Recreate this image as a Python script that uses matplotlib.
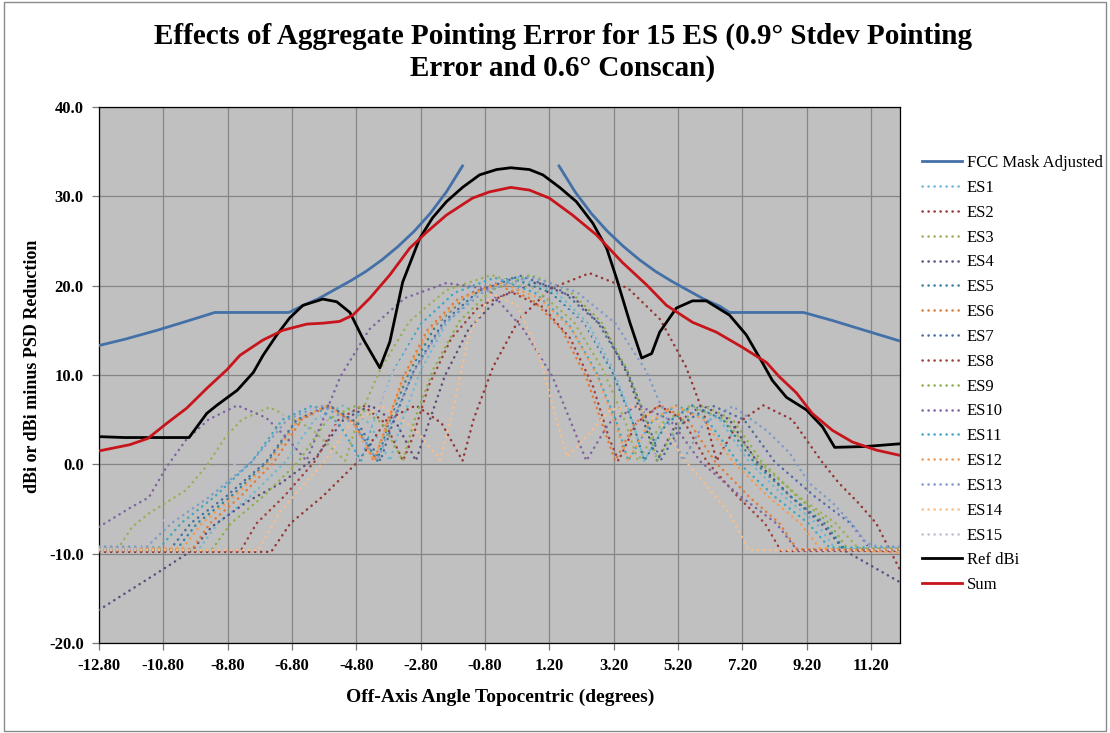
import numpy as np
import matplotlib
matplotlib.use('Agg')
import matplotlib.pyplot as plt
from matplotlib.patches import Rectangle

plt.rcParams['font.family'] = ['Liberation Serif', 'DejaVu Serif']

# FCC mask (gap around the main lobe)
fcc_x = [-12.8, -12.0, -11.0, -10.0, -9.2, -6.9, -6.5, -6.0, -5.5, -5.0, -4.5, -4.0, -3.5, -3.0, -2.5, -2.0, -1.5,
         np.nan,
         1.5, 2.0, 2.5, 3.0, 3.5, 4.0, 4.5, 5.0, 5.5, 6.0, 6.5, 6.8, 9.1, 10.0, 11.0, 12.1]
fcc_y = [13.3, 14.0, 15.0, 16.1, 17.0, 17.0, 17.7, 18.5, 19.5, 20.5, 21.6, 22.9, 24.4, 26.1, 28.1, 30.5, 33.4,
         np.nan,
         33.4, 30.5, 28.1, 26.1, 24.4, 22.9, 21.6, 20.5, 19.5, 18.5, 17.7, 17.0, 17.0, 16.1, 15.0, 13.8]

ref_x = [-12.8, -12.0, -11.0, -10.0, -9.45, -9.14, -8.5, -8.0, -7.7, -7.27, -6.87, -6.46, -5.84, -5.41, -5.0,
         -4.6, -4.07, -3.76, -3.36, -2.83, -2.43, -2.0, -1.5, -0.97, -0.44, 0.0, 0.58, 1.0, 1.52, 2.04,
         2.55, 2.98, 3.29, 3.7, 4.07, 4.38, 4.63, 5.15, 5.65, 6.08, 6.8, 7.32, 7.82, 8.13, 8.57,
         9.19, 9.69, 10.07, 11.05, 12.1]
ref_y = [3.1, 3.0, 3.0, 3.0, 5.7, 6.6, 8.3, 10.3, 12.2, 14.5, 16.4, 17.8, 18.5, 18.2, 17.0,
         14.1, 10.8, 13.7, 20.4, 25.3, 27.6, 29.4, 31.0, 32.4, 33.0, 33.2, 33.0, 32.4, 31.0, 29.4,
         27.0, 24.2, 20.8, 15.9, 11.9, 12.4, 14.8, 17.5, 18.3, 18.3, 16.7, 14.5, 11.4, 9.4, 7.5,
         6.1, 4.2, 1.9, 2.0, 2.3]

sum_x = [-12.8, -11.84, -11.28, -10.69, -10.07, -9.45, -8.82, -8.42, -7.71, -7.09, -6.34, -5.84, -5.32, -4.91,
         -4.38, -3.76, -3.14, -2.61, -2.0, -1.19, -0.66, 0.0, 0.58, 1.2, 1.92, 2.66, 3.47, 4.22, 4.84, 5.65,
         6.39, 7.2, 7.95, 8.35, 8.88, 9.37, 10.0, 10.62, 11.36, 12.1]
sum_y = [1.5, 2.2, 2.9, 4.6, 6.3, 8.5, 10.6, 12.2, 13.9, 15.0, 15.7, 15.8, 16.0, 16.7,
         18.6, 21.2, 24.2, 26.0, 27.9, 29.8, 30.5, 31.0, 30.7, 29.8, 27.9, 25.7, 22.6, 20.1, 17.8, 15.9,
         14.8, 13.1, 11.4, 9.8, 8.0, 5.7, 3.8, 2.5, 1.6, 1.0]

es1_x = [-12.8, -9.7, -9.1, -8.1, -7.0, -6.1, -5.2, -4.4, -3.75, -3.4, -2.8, -2.0, -1.0, 0.2,
         1.4, 2.4, 3.2, 3.8, 4.15, 4.8, 5.6, 6.5, 7.4, 8.5, 9.5, 10.1, 12.1]
es1_y = [-9.5, -9.5, -6.6, -3.6, 0.3, 5.0, 6.6, 4.6, 0.4, 4.7, 10.5, 15.8, 19.3, 21.0,
         19.3, 15.8, 10.5, 4.7, 0.4, 4.6, 6.6, 5.0, 0.3, -3.6, -6.6, -9.5, -9.5]

es2_x = [-12.8, -7.45, -6.85, -5.85, -4.75, -3.85, -2.95, -2.15, -1.5, -1.15, -0.55, 0.25, 1.25, 2.45,
         3.65, 4.65, 5.45, 6.05, 6.4, 7.05, 7.85, 8.75, 9.69, 10.2, 10.8, 11.36, 11.67, 12.1]
es2_y = [-9.8, -9.8, -6.6, -3.6, 0.3, 5.0, 6.6, 4.6, 0.4, 5.1, 10.9, 16.2, 19.7, 21.4,
         19.7, 16.2, 10.9, 5.1, 0.4, 4.6, 6.6, 5.0, 0.2, -2.1, -4.3, -6.6, -8.8, -11.8]

es3_x = [-12.8, -12.18, -11.77, -11.25, -10.72, -10.1, -9.48, -8.86, -8.36, -7.5, -6.2, -5.15, -4.75, -4.05,
         -3.15, -2.0, -0.6, 0.8, 1.95, 2.85, 3.55, 3.95, 4.7, 5.6, 6.65, 7.7, 8.95, 10.1, 10.8, 12.1]
es3_y = [-9.4, -9.3, -7.0, -5.5, -4.3, -2.9, -0.3, 3.1, 5.0, 6.4, 4.0, 0.4, 4.9, 10.7,
         16.0, 19.5, 21.2, 19.5, 16.0, 10.7, 4.9, 0.4, 4.6, 6.6, 5.0, 0.3, -3.6, -6.6, -9.4, -9.4]

es4_x = [-12.8, -10.7, -9.9, -9.3, -8.2, -7.1, -6.05, -5.2, -4.35, -3.55, -2.95, -2.6, -2.05, -1.3, -0.35, 0.8,
         1.95, 2.9, 3.65, 4.2, 4.55, 5.15, 5.95, 6.8, 7.65, 8.7, 9.65, 10.4, 12.1]
es4_y = [-16.3, -11.5, -9.6, -7.0, -4.2, -2.0, 0.8, 5.0, 6.6, 4.6, 0.4, 4.1, 9.9, 15.2, 18.7, 20.4,
         18.7, 15.2, 9.9, 4.1, 0.4, 4.6, 6.6, 5.0, 0.3, -3.6, -6.6, -9.7, -13.2]

es5_x = [-12.8, -10.4, -9.75, -8.7, -7.55, -6.6, -5.65, -4.85, -4.15, -3.8, -3.15, -2.3, -1.25, 0.0,
         1.25, 2.3, 3.15, 3.8, 4.15, 4.85, 5.65, 6.6, 7.55, 8.7, 9.75, 10.4, 12.1]
es5_y = [-9.6, -9.6, -6.6, -3.6, 0.3, 5.0, 6.6, 4.6, 0.4, 4.6, 10.4, 15.7, 19.2, 20.9,
         19.2, 15.7, 10.4, 4.6, 0.4, 4.6, 6.6, 5.0, 0.3, -3.6, -6.6, -9.6, -9.6]

es6_x = [-12.8, -9.9, -9.35, -8.4, -7.35, -6.5, -5.65, -4.85, -4.25, -3.9, -3.35, -2.6, -1.65, -0.5,
         0.65, 1.6, 2.35, 2.9, 3.25, 3.85, 4.65, 5.5, 6.35, 7.4, 8.35, 8.9, 12.1]
es6_y = [-9.5, -9.5, -6.6, -3.6, 0.3, 5.0, 6.6, 4.6, 0.4, 3.9, 9.7, 15.0, 18.5, 20.2,
         18.5, 15.0, 9.7, 3.9, 0.4, 4.6, 6.6, 5.0, 0.3, -3.6, -6.6, -9.5, -9.5]

es7_x = [-12.8, -10.6, -9.95, -8.85, -7.6, -6.65, -5.65, -4.75, -4.05, -3.65, -3.0, -2.1, -1.0, 0.3,
         1.6, 2.7, 3.6, 4.25, 4.65, 5.35, 6.25, 7.25, 8.2, 9.45, 10.55, 11.2, 12.1]
es7_y = [-9.6, -9.6, -6.6, -3.6, 0.3, 5.0, 6.6, 4.6, 0.4, 4.8, 10.6, 15.9, 19.4, 21.1,
         19.4, 15.9, 10.6, 4.8, 0.4, 4.6, 6.6, 5.0, 0.3, -3.6, -6.6, -9.6, -9.6]

es8_x = [-12.8, -8.4, -7.9, -7.05, -6.1, -5.35, -4.6, -3.9, -3.35, -3.05, -2.55, -1.85, -1.0, 0.0,
         1.0, 1.85, 2.55, 3.05, 3.35, 3.9, 4.6, 5.35, 6.1, 7.05, 7.9, 8.4, 12.1]
es8_y = [-9.7, -9.7, -6.6, -3.6, 0.3, 5.0, 6.6, 4.6, 0.4, 3.0, 8.8, 14.1, 17.6, 19.3,
         17.6, 14.1, 8.8, 3.0, 0.4, 4.6, 6.6, 5.0, 0.3, -3.6, -6.6, -9.7, -9.7]

es9_x = [-12.8, -9.3, -8.7, -7.7, -6.6, -5.7, -4.8, -4.0, -3.35, -3.0, -2.4, -1.6, -0.6, 0.6,
         1.8, 2.8, 3.6, 4.2, 4.55, 5.2, 6.0, 6.9, 7.8, 8.9, 9.9, 10.5, 12.1]
es9_y = [-9.6, -9.6, -6.6, -3.6, 0.3, 5.0, 6.6, 4.6, 0.4, 4.9, 10.7, 16.0, 19.5, 21.2,
         19.5, 16.0, 10.7, 4.9, 0.4, 4.6, 6.6, 5.0, 0.3, -3.6, -6.6, -9.6, -9.6]

es10_x = [-12.8, -11.8, -11.25, -10.7, -10.1, -9.4, -8.5, -7.6, -7.0, -6.35, -5.95, -5.3, -4.4, -3.3, -2.0,
          -0.7, 0.4, 1.3, 1.95, 2.35, 3.05, 3.95, 4.95, 5.9, 7.15, 8.25, 8.9, 12.1]
es10_y = [-7.0, -4.8, -3.7, -0.3, 2.7, 5.0, 6.6, 5.2, 3.1, 0.4, 4.0, 9.8, 15.1, 18.6, 20.3,
          19.6, 15.1, 9.8, 4.0, 0.4, 4.6, 6.6, 5.0, 0.3, -3.6, -6.6, -9.6, -9.6]

es11_x = [-12.8, -10.9, -10.25, -9.2, -8.05, -7.1, -6.15, -5.35, -4.65, -4.3, -3.65, -2.8, -1.75, -0.5,
          0.75, 1.8, 2.65, 3.3, 3.65, 4.35, 5.15, 6.1, 7.05, 8.2, 9.25, 9.9, 12.1]
es11_y = [-9.3, -9.3, -6.6, -3.6, 0.3, 5.0, 6.6, 4.6, 0.4, 4.6, 10.4, 15.7, 19.2, 20.9,
          19.2, 15.7, 10.4, 4.6, 0.4, 4.6, 6.6, 5.0, 0.3, -3.6, -6.6, -9.3, -9.3]

es12_x = [-12.8, -10.2, -9.6, -8.6, -7.5, -6.6, -5.7, -4.9, -4.25, -3.9, -3.3, -2.5, -1.5, -0.3,
          0.9, 1.9, 2.7, 3.3, 3.65, 4.3, 5.1, 6.0, 6.9, 8.0, 9.0, 9.6, 12.1]
es12_y = [-9.4, -9.4, -6.6, -3.6, 0.3, 5.0, 6.6, 4.6, 0.4, 4.0, 9.8, 15.1, 18.6, 20.3,
          18.6, 15.1, 9.8, 4.0, 0.4, 4.6, 6.6, 5.0, 0.3, -3.6, -6.6, -9.4, -9.9]

es13_x = [-12.8, -11.3, -10.55, -9.35, -8.05, -6.95, -5.9, -4.9, -4.15, -3.7, -3.0, -2.05, -0.85, 0.6,
          2.05, 3.25, 4.2, 4.9, 5.35, 6.0, 6.9, 7.95, 8.66, 9.28, 10.0, 10.6, 11.05, 11.4, 12.1]
es13_y = [-9.2, -9.2, -6.6, -3.6, 0.3, 5.0, 6.6, 4.6, 0.4, 4.7, 10.5, 15.8, 19.3, 21.0,
          19.3, 15.8, 10.5, 4.7, 0.4, 4.6, 6.5, 3.8, 1.3, -2.1, -4.3, -6.6, -8.8, -9.2, -9.2]

es14_x = [-12.8, -7.85, -7.2, -6.6, -5.75, -5.0, -4.0, -3.0, -2.2, -1.8, -1.3, -0.6,
          0.2, 0.87, 1.28, 1.75, 2.35, 3.1, 3.9, 4.7, 5.4, 6.2, 6.8, 7.4, 12.1]
es14_y = [-9.6, -9.6, -5.5, -2.9, 0.5, 4.5, 6.5, 4.0, 0.5, 6.0, 14.5, 19.1,
          17.8, 12.4, 6.9, 0.8, 3.1, 6.1, 6.5, 4.5, 0.5, -2.9, -5.5, -9.6, -9.6]

es15_x = [-12.8, -11.6, -10.9, -9.75, -8.5, -7.45, -6.4, -5.5, -4.75, -4.35, -3.65, -2.75, -1.6, -0.2,
          1.2, 2.35, 3.25, 3.95, 4.35, 5.1, 6.0, 7.05, 8.1, 9.35, 10.5, 11.2, 12.1]
es15_y = [-9.5, -9.5, -6.6, -3.6, 0.3, 5.0, 6.6, 4.6, 0.4, 4.4, 10.2, 15.5, 19.0, 20.7,
          19.0, 15.5, 10.2, 4.4, 0.4, 4.6, 6.6, 5.0, 0.3, -3.6, -6.6, -9.5, -9.5]

es_colors = ['#6FB9D3', '#953735', '#9BAF5A', '#5B4F80', '#31859C', '#E07B39', '#4A6E9E', '#A0403E',
             '#8DB04A', '#8064A2', '#3FA7C2', '#F59A4F', '#7E9BCB', '#F8BE8C', '#C5BBD8']

xticks = [-12.8, -10.8, -8.8, -6.8, -4.8, -2.8, -0.8, 1.2, 3.2, 5.2, 7.2, 9.2, 11.2]
yticks = [-20, -10, 0, 10, 20, 30, 40]

fig = plt.figure(figsize=(11.1, 7.33), dpi=100)
ax = fig.add_axes([99/1110, 1-643/733, 801/1110, 536/733])
ax.set_facecolor('#C0C0C0')

es_all = [(es1_x, es1_y), (es2_x, es2_y), (es3_x, es3_y), (es4_x, es4_y), (es5_x, es5_y),
          (es6_x, es6_y), (es7_x, es7_y), (es8_x, es8_y), (es9_x, es9_y), (es10_x, es10_y),
          (es11_x, es11_y), (es12_x, es12_y), (es13_x, es13_y), (es14_x, es14_y), (es15_x, es15_y)]

handles = []
h, = ax.plot(fcc_x, fcc_y, color='#4470A8', lw=2.0, zorder=3, label='FCC Mask Adjusted')
handles.append(h)
dots = (0, (0.1, 2.3))
for i, (xs, ys) in enumerate(es_all):
    h, = ax.plot(xs, ys, color=es_colors[i], lw=1.8, linestyle=dots, dash_capstyle='round',
                 zorder=3.1 + i*0.01, label='ES%d' % (i+1))
    handles.append(h)
h, = ax.plot(ref_x, ref_y, color='black', lw=2.0, zorder=4, label='Ref dBi')
handles.append(h)
h, = ax.plot(sum_x, sum_y, color='#C8141B', lw=2.0, zorder=4.1, label='Sum')
handles.append(h)

ax.set_xlim(-12.8, 12.1)
ax.set_ylim(-20, 40)
ax.set_xticks(xticks)
ax.set_xticklabels(['%.2f' % v for v in xticks])
ax.set_yticks(yticks)
ax.set_yticklabels(['%.1f' % v for v in yticks])
ax.grid(True, color='#858585', lw=0.9)
ax.set_axisbelow(True)
for s in ax.spines.values():
    s.set_color('black')
    s.set_linewidth(0.9)
ax.tick_params(direction='out', length=5, width=0.9, color='#777777', labelsize=12, pad=6)
for lab in ax.get_xticklabels() + ax.get_yticklabels():
    lab.set_fontweight('bold')

fig.text(0.507, 1-52/733, 'Effects of Aggregate Pointing Error for 15 ES (0.9\u00b0 Stdev Pointing\nError and 0.6\u00b0 Conscan)',
         ha='center', va='center', fontsize=21, fontweight='bold', linespacing=1.22)
fig.text(33/1110, 1-366/733, 'dBi or dBi minus PSD Reduction', rotation=90, ha='center', va='center',
         fontsize=13, fontweight='bold')
fig.text(500/1110, 1-697/733, 'Off-Axis Angle Topocentric (degrees)', ha='center', va='center',
         fontsize=14, fontweight='bold')

fig.legend(handles=handles, loc='upper left', bbox_to_anchor=(922/1110, 1-155/733), frameon=False,
           fontsize=12, handlelength=2.4, handletextpad=0.3, labelspacing=0.53, borderpad=0, borderaxespad=0)

fig.patches.append(Rectangle((4/1110, 2/733), 1102/1110, 729/733, transform=fig.transFigure,
                             fill=False, edgecolor='#8a8a8a', lw=1))

fig.savefig('out.png', dpi=100)
